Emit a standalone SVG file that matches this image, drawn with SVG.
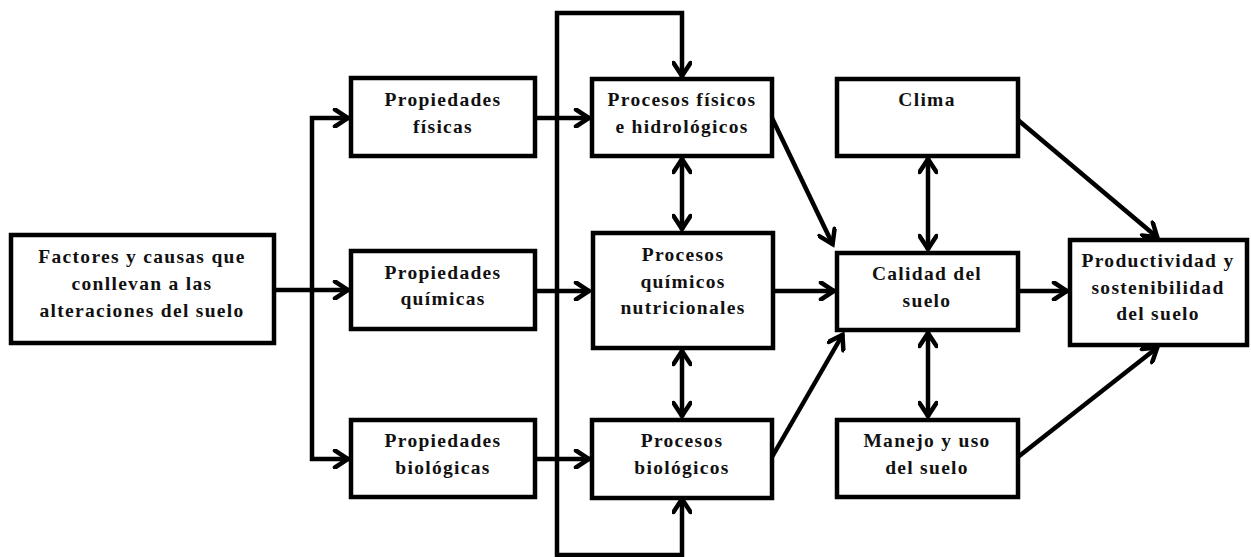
<svg xmlns="http://www.w3.org/2000/svg" width="1251" height="557" viewBox="0 0 1251 557">
<style>
.box{fill:#fff;stroke:#000;stroke-width:4.5}
.t{font-family:"Liberation Serif","Times New Roman",serif;font-weight:bold;font-size:19.5px;letter-spacing:1.3px;text-anchor:middle;fill:#111}
.c{fill:none;stroke:#000;stroke-width:4.5;stroke-linejoin:miter}
</style>
<defs>
<marker id="ah" viewBox="0 0 20 20" markerWidth="20" markerHeight="20" markerUnits="userSpaceOnUse" refX="17" refY="10" orient="auto-start-reverse">
<path d="M3,1.5 L16,10 L3,18.5" fill="none" stroke="#000" stroke-width="4.5" stroke-linecap="round" stroke-linejoin="miter"/>
</marker>
</defs>
<rect width="1251" height="557" fill="#fff"/>
<g id="connectors">
<path class="c" d="M274,290 L349,290" marker-end="url(#ah)"/>
<path class="c" d="M349,118 L312,118 L312,459 L349,459" marker-start="url(#ah)" marker-end="url(#ah)"/>
<path class="c" d="M535,118 L590,118" marker-end="url(#ah)"/>
<path class="c" d="M535,291 L590,291" marker-end="url(#ah)"/>
<path class="c" d="M535,459 L590,459" marker-end="url(#ah)"/>
<path class="c" d="M682,498 L682,555 L557,555 L557,13 L682,13 L682,77" marker-start="url(#ah)" marker-end="url(#ah)"/>
<path class="c" d="M682,158 L682,230" marker-start="url(#ah)" marker-end="url(#ah)"/>
<path class="c" d="M682,350 L682,417" marker-start="url(#ah)" marker-end="url(#ah)"/>
<path class="c" d="M772,118 L833,245" marker-end="url(#ah)"/>
<path class="c" d="M773,291 L835,291" marker-end="url(#ah)"/>
<path class="c" d="M772,457 L843,334" marker-end="url(#ah)"/>
<path class="c" d="M928,158 L928,250" marker-start="url(#ah)" marker-end="url(#ah)"/>
<path class="c" d="M928,332 L928,417" marker-start="url(#ah)" marker-end="url(#ah)"/>
<path class="c" d="M1018,291 L1068,291" marker-end="url(#ah)"/>
<path class="c" d="M1018,120 L1158,238" marker-end="url(#ah)"/>
<path class="c" d="M1018,457 L1158,347" marker-end="url(#ah)"/>
</g>
<g id="factores">
<rect class="box" x="11" y="235" width="263" height="108"/>
<text class="t" x="142" y="263">Factores y causas que</text>
<text class="t" x="142" y="290">conllevan a las</text>
<text class="t" x="142" y="317">alteraciones del suelo</text>
</g>
<g id="prop-fisicas">
<rect class="box" x="351" y="78" width="184" height="78"/>
<text class="t" x="443" y="106">Propiedades</text>
<text class="t" x="443" y="133">físicas</text>
</g>
<g id="prop-quimicas">
<rect class="box" x="351" y="251" width="184" height="78"/>
<text class="t" x="443" y="279">Propiedades</text>
<text class="t" x="443" y="305">químicas</text>
</g>
<g id="prop-biologicas">
<rect class="box" x="351" y="420" width="184" height="77"/>
<text class="t" x="443" y="447">Propiedades</text>
<text class="t" x="443" y="474">biológicas</text>
</g>
<g id="proc-fisicos">
<rect class="box" x="592" y="79" width="180" height="77"/>
<text class="t" x="682" y="106">Procesos físicos</text>
<text class="t" x="682" y="133">e hidrológicos</text>
</g>
<g id="proc-quimicos">
<rect class="box" x="593" y="233" width="180" height="115"/>
<text class="t" x="683" y="261">Procesos</text>
<text class="t" x="683" y="288">químicos</text>
<text class="t" x="683" y="314">nutricionales</text>
</g>
<g id="proc-biologicos">
<rect class="box" x="592" y="420" width="180" height="78"/>
<text class="t" x="682" y="447">Procesos</text>
<text class="t" x="682" y="474">biológicos</text>
</g>
<g id="clima">
<rect class="box" x="837" y="79" width="181" height="77"/>
<text class="t" x="927" y="106">Clima</text>
</g>
<g id="calidad">
<rect class="box" x="837" y="253" width="181" height="77"/>
<text class="t" x="927" y="280">Calidad del</text>
<text class="t" x="927" y="307">suelo</text>
</g>
<g id="manejo">
<rect class="box" x="837" y="420" width="181" height="77"/>
<text class="t" x="927" y="447">Manejo y uso</text>
<text class="t" x="927" y="474">del suelo</text>
</g>
<g id="productividad">
<rect class="box" x="1070" y="240" width="177" height="105"/>
<text class="t" x="1158" y="267">Productividad y</text>
<text class="t" x="1158" y="294">sostenibilidad</text>
<text class="t" x="1158" y="320">del suelo</text>
</g>
</svg>
